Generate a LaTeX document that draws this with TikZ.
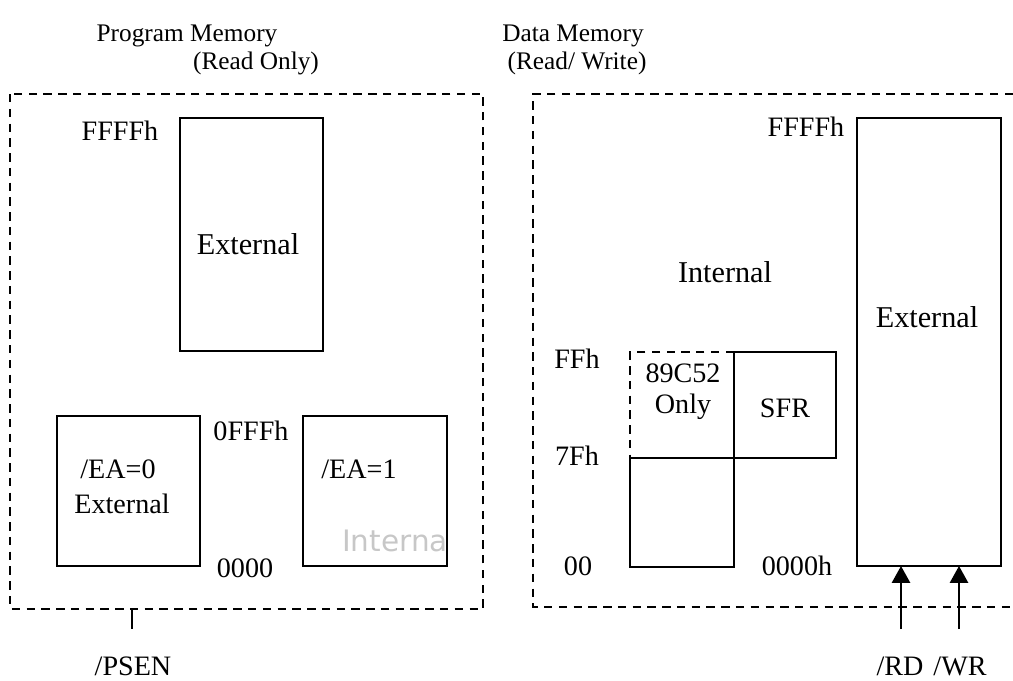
\documentclass[tikz,border=0pt]{standalone}
\usepackage{fontspec}
\setmainfont{Liberation Serif}
\newfontfamily\greysans{DejaVu Sans}
\usetikzlibrary{arrows.meta}
\tikzset{
  membox/.style={line width=1.2pt},
  memdash/.style={line width=1.2pt, dash pattern=on 6pt off 4.5pt},
  head/.style={font=\fontsize{18}{20}\selectfont, inner sep=0pt, anchor=base},
  lbl/.style={font=\fontsize{20}{22}\selectfont, inner sep=0pt, anchor=base},
  biglbl/.style={font=\fontsize{21.5}{24}\selectfont, inner sep=0pt, anchor=base},
  strobe/.style={line width=1.2pt, -{Triangle[length=12pt,width=13pt]}},
}
\begin{document}
\begin{tikzpicture}[x=0.025cm, y=-0.025cm]
  \useasboundingbox (0,0) rectangle (1013,680);
  % Program memory
  \node[head] (pmtitle) at (187,41) {Program Memory};
  \node[head] (pmmode) at (256,69) {(Read Only)};
  \draw[memdash] (10,94) rectangle (483,609);
  \draw[membox] (180,118) rectangle (323,351);
  \node[lbl] (pmtop) at (120,140) {FFFFh};
  \node[biglbl] (pmext) at (248,254) {External};
  \draw[membox] (57,416) rectangle (200,566);
  \node[lbl] (eazero) at (118,478) {/EA=0};
  \node[lbl] (eaext) at (122,513) {External};
  \draw[membox] (303,416) rectangle (447,566);
  \node[lbl] (eaone) at (359,478) {/EA=1};
  \begin{scope}
    \clip (303,416) rectangle (447,566);
    \node[font=\greysans\fontsize{21}{23}\selectfont, text=black!22,
          inner sep=0pt, anchor=base west] (eaint) at (342,551) {Internal};
  \end{scope}
  \node[lbl] (pmmid) at (251,440) {0FFFh};
  \node[lbl] (pmbot) at (245,577) {0000};
  \coordinate (psentop) at (132,610);
  \coordinate (psenend) at (132,629);
  \draw[membox] (psentop) -- (psenend);
  \node[lbl] (psen) at (133,675) {/PSEN};
  % Data memory
  \node[head] (dmtitle) at (573,41) {Data Memory};
  \node[head] (dmmode) at (577,69) {(Read/ Write)};
  \draw[memdash] (1013,94) -- (533,94) -- (533,607) -- (1013,607);
  \node[biglbl] (dmint) at (725,282) {Internal};
  \draw[memdash] (734,352) -- (630,352) -- (630,458);
  \draw[membox] (630,458) rectangle (734,567);
  \draw[membox] (734,352) rectangle (836,458);
  \node[lbl] (only1) at (683,382) {89C52};
  \node[lbl] (only2) at (683,413) {Only};
  \node[lbl] (sfr) at (785,417) {SFR};
  \node[lbl] (dmff) at (577,368) {FFh};
  \node[lbl] (dm7f) at (577,465) {7Fh};
  \node[lbl] (dmzero) at (578,575) {00};
  \node[lbl] (dmbot) at (797,575) {0000h};
  \draw[membox] (857,118) rectangle (1001,566);
  \node[lbl] (dmtop) at (806,136) {FFFFh};
  \node[biglbl] (dmext) at (927,327) {External};
  % Strobes
  \coordinate (rdfoot) at (901,629);
  \coordinate (rdtip) at (901,566);
  \coordinate (wrfoot) at (959,629);
  \coordinate (wrtip) at (959,566);
  \draw[strobe] (rdfoot) -- (rdtip);
  \draw[strobe] (wrfoot) -- (wrtip);
  \node[lbl] (rd) at (900,675) {/RD};
  \node[lbl] (wr) at (960,675) {/WR};
\end{tikzpicture}
\end{document}
